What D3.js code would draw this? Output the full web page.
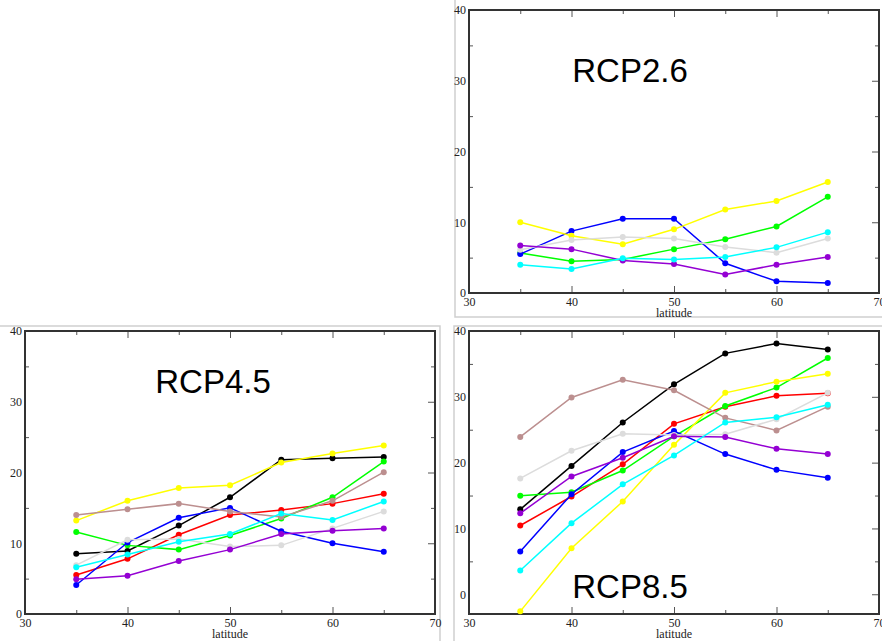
<!DOCTYPE html>
<html>
<head>
<meta charset="utf-8">
<script src="https://cdn.jsdelivr.net/npm/d3@7"></script>
<style>
  body { margin: 0; background: #fff; }
  svg { display: block; }
  .tick text { font-family: "Liberation Serif", "DejaVu Serif", serif; font-size: 12px; fill: #222; }
</style>
</head>
<body>
<svg id="canvas" width="882" height="641"></svg>
<script>
// latitude of each point
let latitudes = [35, 40, 45, 50, 55, 60, 65];
let xTicks = [30, 40, 50, 60, 70];

// RCP2.6 series
let rcp26 = {
    green:  [5.65, 4.5, 4.75, 6.2, 7.6, 9.4, 13.6],
    blue:   [5.5, 8.75, 10.5, 10.5, 4.2, 1.65, 1.4],
    yellow: [10.0, 8.1, 6.9, 9.0, 11.8, 13.0, 15.7],
    grey:   [6.1, 7.5, 7.9, 7.7, 6.5, 5.7, 7.7],
    violet: [6.7, 6.2, 4.6, 4.1, 2.6, 4.0, 5.1],
    cyan:   [4.0, 3.4, 4.9, 4.75, 5.1, 6.45, 8.6]
};

// RCP4.5 series
let rcp45 = {
    black:  [8.5, 8.9, 12.5, 16.5, 21.8, 22.0, 22.2],
    red:    [5.5, 7.8, 11.2, 14.0, 14.7, 15.6, 17.0],
    green:  [11.6, 9.7, 9.1, 11.1, 13.5, 16.5, 21.55],
    blue:   [4.1, 10.1, 13.6, 15.0, 11.7, 10.0, 8.8],
    yellow: [13.2, 16.0, 17.8, 18.2, 21.4, 22.7, 23.8],
    brown:  [14.0, 14.8, 15.6, 14.5, 13.7, 16.0, 20.05],
    grey:   [6.9, 10.5, 10.6, 9.55, 9.7, 12.1, 14.5],
    violet: [4.9, 5.4, 7.5, 9.1, 11.3, 11.75, 12.1],
    cyan:   [6.6, 8.4, 10.2, 11.3, 14.2, 13.3, 15.9]
};

// RCP8.5 series
let rcp85 = {
    black:  [12.9, 19.5, 26.1, 31.9, 36.6, 38.1, 37.2],
    red:    [10.45, 14.85, 19.75, 25.9, 28.5, 30.15, 30.55],
    green:  [14.95, 15.5, 18.8, 24.0, 28.6, 31.4, 35.9],
    blue:   [6.5, 15.2, 21.6, 24.8, 21.3, 18.9, 17.7],
    yellow: [-2.6, 7.0, 14.1, 22.7, 30.6, 32.3, 33.5],
    brown:  [23.9, 29.9, 32.6, 31.0, 26.8, 24.9, 28.5],
    grey:   [17.6, 21.8, 24.4, 24.2, 24.3, 26.6, 30.6],
    violet: [12.3, 17.9, 20.75, 24.0, 23.9, 22.1, 21.3],
    cyan:   [3.6, 10.8, 16.7, 21.1, 26.1, 26.9, 28.8]
};

// grace-like palette
let colors = {
    black: '#000000', red: '#ff0000', green: '#00ff00', blue: '#0000ff',
    yellow: '#ffff00', brown: '#bc8f8f', grey: '#dcdcdc', violet: '#9400d3', cyan: '#00ffff'
};
let drawOrder = ['black', 'red', 'green', 'blue', 'yellow', 'brown', 'grey', 'violet', 'cyan'];

// panel layout
let panels = [
    {title: 'RCP2.6', data: rcp26, left: 469, top: 10, width: 410, height: 283, yMin: 0, yMax: 40,
     titleX: 630, titleY: 82, frame: {x: 455, y: -5, w: 440, h: 322}},
    {title: 'RCP4.5', data: rcp45, left: 25, top: 331, width: 410, height: 283, yMin: 0, yMax: 40,
     titleX: 213, titleY: 393, frame: {x: -5, y: 326, w: 445, h: 330}},
    {title: 'RCP8.5', data: rcp85, left: 469, top: 331, width: 410, height: 283, yMin: -3, yMax: 40,
     titleX: 630, titleY: 598, frame: {x: 454, y: 326, w: 440, h: 330}}
];

let canvas = d3.select('#canvas');

let drawPanel = (p) => {
    // light frame around the graph
    canvas.append('rect')
        .attr('x', p.frame.x).attr('y', p.frame.y)
        .attr('width', p.frame.w).attr('height', p.frame.h)
        .attr('fill', 'none').attr('stroke', '#cfcfcf').attr('stroke-width', 1.5);

    let x = d3.scaleLinear().domain([30, 70]).range([p.left, p.left + p.width]);
    let y = d3.scaleLinear().domain([p.yMin, p.yMax]).range([p.top + p.height, p.top]);

    let yMajor = d3.range(Math.ceil(p.yMin / 10) * 10, p.yMax + 1, 10);
    let yMinor = d3.range(Math.ceil(p.yMin / 5) * 5, p.yMax + 1, 5).filter(v => v % 10 !== 0);
    let xMinor = d3.range(35, 70, 10);

    let g = canvas.append('g');

    // inward ticks on all four sides
    let addAxis = (axis, transform, withLabels) => {
        let a = g.append('g').attr('transform', transform).call(axis);
        a.select('.domain').remove();
        a.selectAll('.tick line').attr('stroke', '#555').attr('stroke-width', 1);
        if (!withLabels) a.selectAll('.tick text').remove();
        return a;
    };

    let bottom = addAxis(d3.axisBottom(x).tickValues(xTicks).tickSize(-7).tickPadding(12).tickFormat(d3.format('d')),
        'translate(0,' + (p.top + p.height) + ')', true);
    bottom.selectAll('.tick text').attr('dy', '0.1em');
    addAxis(d3.axisBottom(x).tickValues(xMinor).tickSize(-4), 'translate(0,' + (p.top + p.height) + ')', false);
    addAxis(d3.axisTop(x).tickValues(xTicks).tickSize(-7), 'translate(0,' + p.top + ')', false);
    addAxis(d3.axisTop(x).tickValues(xMinor).tickSize(-4), 'translate(0,' + p.top + ')', false);

    let leftAx = addAxis(d3.axisLeft(y).tickValues(yMajor).tickSize(-7).tickPadding(3).tickFormat(d3.format('d')),
        'translate(' + p.left + ',0)', true);
    leftAx.selectAll('.tick line').remove();
    addAxis(d3.axisLeft(y).tickValues(yMinor).tickSize(-4), 'translate(' + p.left + ',0)', false);
    addAxis(d3.axisRight(y).tickValues(yMajor).tickSize(-7), 'translate(' + (p.left + p.width) + ',0)', false);
    addAxis(d3.axisRight(y).tickValues(yMinor).tickSize(-4), 'translate(' + (p.left + p.width) + ',0)', false);

    // plot box
    g.append('rect')
        .attr('x', p.left).attr('y', p.top)
        .attr('width', p.width).attr('height', p.height)
        .attr('fill', 'none').attr('stroke', '#333').attr('stroke-width', 2);

    // axis title
    g.append('text')
        .attr('x', x(50)).attr('y', p.top + p.height + 24)
        .attr('text-anchor', 'middle')
        .style('font-family', '"Liberation Serif", serif').style('font-size', '12px').style('fill', '#222')
        .text('latitude');

    // series
    let line = d3.line().x((d, i) => x(latitudes[i])).y(d => y(d));
    drawOrder.filter(k => p.data[k]).forEach(k => {
        let vals = p.data[k];
        g.append('path')
            .attr('d', line(vals))
            .attr('fill', 'none').attr('stroke', colors[k]).attr('stroke-width', 1.5);
        g.selectAll(null).data(vals).enter().append('circle')
            .attr('cx', (d, i) => x(latitudes[i])).attr('cy', d => y(d))
            .attr('r', 3).attr('fill', colors[k]);
    });

    // scenario label
    g.append('text')
        .attr('x', p.titleX).attr('y', p.titleY)
        .attr('text-anchor', 'middle')
        .style('font-family', '"Liberation Sans", Arial, sans-serif').style('font-size', '33px').style('fill', '#000')
        .text(p.title);
};

panels.forEach(drawPanel);
</script>
</body>
</html>
